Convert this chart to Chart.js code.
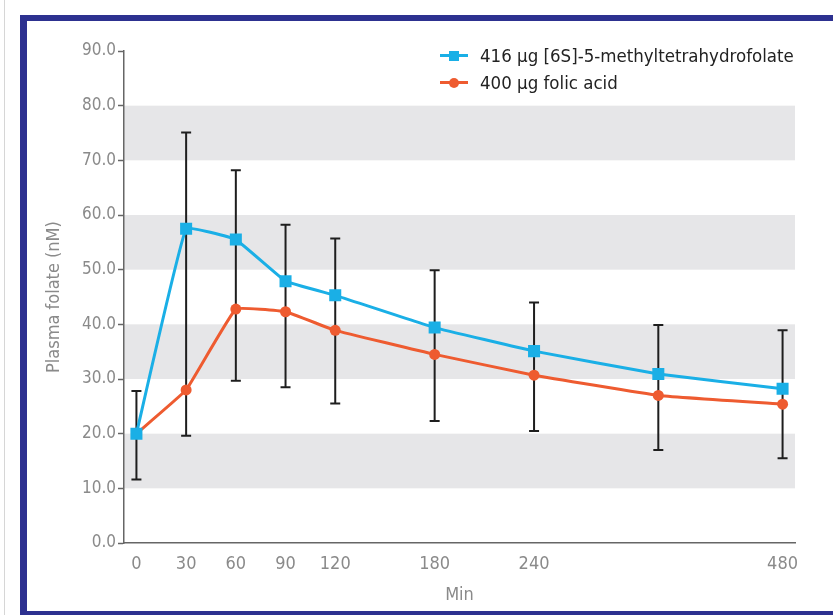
<!DOCTYPE html>
<html>
<head>
<meta charset="utf-8">
<script src="https://cdn.jsdelivr.net/npm/chart.js@4.4.1/dist/chart.umd.min.js"></script>
<style>
  body { margin: 0; width: 833px; height: 615px; overflow: hidden; background: #fff;
         font-family: 'Liberation Sans Narrow', 'DejaVu Sans Condensed', sans-serif; }
  #edge { position: absolute; left: 4px; top: 0; width: 1px; height: 615px; background: #d6d6d6; }
  #frame { position: absolute; left: 20px; top: 15px; width: 820px; height: 590px;
           border: 7px solid #2d3190; border-top-width: 6px; background: #fff; }
  #wrap { position: absolute; left: 0; top: 0; width: 806px; height: 590px; }
  #legend { position: absolute; left: 440px; top: 42px; font-size: 18.5px; color: #222; }
  .item { height: 27px; line-height: 27px; display: flex; align-items: center; }
  .sw { position: relative; width: 28px; height: 14px; margin-right: 12px; }
  .ln { position: absolute; left: 0; top: 5.5px; width: 28px; height: 3px; }
  .mk { position: absolute; left: 9px; top: 2px; width: 10px; height: 10px; }
  .dot { border-radius: 50%; }
</style>
</head>
<body>
<div id="edge"></div>
<div id="frame">
  <div id="wrap"><canvas id="chart"></canvas></div>
</div>
<div id="legend">
  <div class="item"><span class="sw"><i class="ln" style="background:#1aafe6"></i><i class="mk" style="background:#1aafe6"></i></span>416 µg [6S]-5-methyltetrahydrofolate</div>
  <div class="item"><span class="sw"><i class="ln" style="background:#ee5b30"></i><i class="mk dot" style="background:#ee5b30"></i></span>400 µg folic acid</div>
</div>
<script>
// x axis slots as drawn in the figure (minutes), only some are labelled
const axisSlots = ['0', '15', '30', '45', '60', '75', '90', '105', '120', '135', '150', '165', '180',
    '195', '210', '225', '240', '264', '288', '312', '336', '360', '384', '408', '432', '456', '480'];
const labeledTimes = ['0', '30', '60', '90', '120', '180', '240', '480'];

const sampleTimes = ['0', '30', '60', '90', '120', '180', '240', '360', '480'];
const mthfMean = [20.0, 57.5, 55.5, 47.9, 45.3, 39.4, 35.1, 30.9, 28.2];
const folicMean = [20.0, 28.0, 42.8, 42.3, 38.9, 34.5, 30.7, 27.0, 25.4];
// error bars: top is MTHF + SD, bottom is folic acid - SD
const errorHigh = [27.8, 75.1, 68.2, 58.2, 55.7, 49.9, 44.0, 39.9, 38.9];
const errorLow = [11.6, 19.6, 29.7, 28.5, 25.5, 22.3, 20.5, 17.0, 15.5];

const shadedBands = [[10, 20], [30, 40], [50, 60], [70, 80]];

const FONT = "'Liberation Sans Narrow', 'DejaVu Sans Condensed', sans-serif";
const BLUE = '#1aafe6';
const RED = '#ee5b30';

const bandsPlugin = {
    id: 'bands',
    beforeDraw(chart) {
        const { ctx, chartArea: a, scales: { y } } = chart;
        ctx.save();
        ctx.fillStyle = '#e6e6e8';
        shadedBands.forEach(([lo, hi]) => {
            const top = y.getPixelForValue(hi);
            const bot = y.getPixelForValue(lo);
            ctx.fillRect(a.left, top, a.right - a.left, bot - top);
        });
        ctx.restore();
    }
};

const errorBarsPlugin = {
    id: 'errorBars',
    beforeDatasetsDraw(chart) {
        const { ctx, scales: { x, y } } = chart;
        ctx.save();
        ctx.strokeStyle = '#1e1e1e';
        ctx.lineWidth = 2;
        sampleTimes.forEach((t, i) => {
            const px = x.getPixelForValue(axisSlots.indexOf(t));
            const top = y.getPixelForValue(errorHigh[i]);
            const bot = y.getPixelForValue(errorLow[i]);
            ctx.beginPath();
            ctx.moveTo(px, top); ctx.lineTo(px, bot);
            ctx.moveTo(px - 5, top); ctx.lineTo(px + 5, top);
            ctx.moveTo(px - 5, bot); ctx.lineTo(px + 5, bot);
            ctx.stroke();
        });
        ctx.restore();
    }
};

new Chart(document.getElementById('chart'), {
    type: 'line',
    data: {
        labels: axisSlots,
        datasets: [
            {
                label: '416 µg [6S]-5-methyltetrahydrofolate',
                data: sampleTimes.map((t, i) => ({ x: t, y: mthfMean[i] })),
                borderColor: BLUE,
                backgroundColor: BLUE,
                borderWidth: 3,
                pointStyle: 'rect',
                pointRadius: 8.5,
                pointBorderWidth: 0,
                tension: 0.08
            },
            {
                label: '400 µg folic acid',
                data: sampleTimes.map((t, i) => ({ x: t, y: folicMean[i] })),
                borderColor: RED,
                backgroundColor: RED,
                borderWidth: 3,
                pointStyle: 'circle',
                pointRadius: 5.5,
                pointBorderWidth: 0,
                tension: 0.08
            }
        ]
    },
    options: {
        responsive: true,
        maintainAspectRatio: false,
        animation: false,
        layout: { padding: { top: 30, right: 38, left: 0, bottom: 0 } },
        plugins: { legend: { display: false }, tooltip: { enabled: false } },
        scales: {
            x: {
                type: 'category',
                offset: true,
                grid: { display: false, drawTicks: false },
                border: { display: true, color: '#666', width: 1.5 },
                ticks: {
                    autoSkip: false, maxRotation: 0, padding: 11,
                    color: '#8a8a8a', font: { family: FONT, size: 18 },
                    callback(v) {
                        const l = this.getLabelForValue(v);
                        return labeledTimes.includes(l) ? l : '';
                    }
                },
                title: {
                    display: true, text: 'Min', color: '#8a8a8a',
                    font: { family: FONT, size: 18 }, padding: { top: 0, bottom: 5 }
                },
                afterFit(s) { s.height = 68; }
            },
            y: {
                min: 0,
                max: 90,
                ticks: {
                    stepSize: 10, padding: 2, color: '#8a8a8a',
                    font: { family: FONT, size: 17 },
                    callback: v => v.toFixed(1)
                },
                grid: { drawOnChartArea: false, tickLength: 6, tickColor: '#666', tickWidth: 1.5 },
                border: { color: '#666', width: 1.5 },
                title: {
                    display: true, text: 'Plasma folate (nM)', color: '#8a8a8a',
                    font: { family: FONT, size: 18 }, padding: { top: 17, bottom: 0 }
                },
                afterFit(s) { s.width = 97; }
            }
        }
    },
    plugins: [bandsPlugin, errorBarsPlugin]
});
</script>
</body>
</html>
